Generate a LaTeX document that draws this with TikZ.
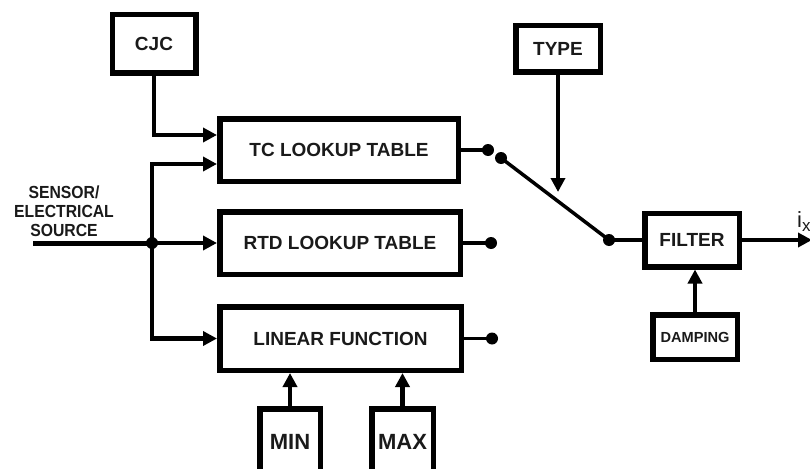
\documentclass[tikz,border=0pt]{standalone}
\usepackage{fontspec}
\setmainfont{Liberation Sans}
\newfontfamily\narrowsans[FakeStretch=0.9]{Liberation Sans}
\usetikzlibrary{arrows.meta,calc}
\definecolor{ink}{HTML}{1A1A1A}
\begin{document}
\begin{tikzpicture}[x=1pt,y=-1pt,
  blk/.style={draw=black, line width=5.5pt, fill=white, text=ink,
    font=\bfseries\fontsize{19}{22}\selectfont, inner sep=0pt},
  arr/.style={line width=4.5pt, -{Triangle[length=14pt,width=14pt]}},
  wire/.style={line width=3.5pt},
  pin/.style={circle, fill=black, inner sep=0pt, minimum size=12pt}]
\useasboundingbox (0,0) rectangle (810,468);

% blocks
\node[blk, minimum width=83.5pt, minimum height=58.5pt] (cjc) at (154,44) {CJC};
\node[blk, minimum width=84.5pt, minimum height=46.5pt] (type) at (558,49) {TYPE};
\node[blk, minimum width=238.5pt, minimum height=62.5pt] (tc) at (339,150) {TC LOOKUP TABLE};
\node[blk, minimum width=240.5pt, minimum height=62.5pt] (rtd) at (340,243) {RTD LOOKUP TABLE};
\node[blk, minimum width=241.5pt, minimum height=63.5pt] (lin) at (340.5,338.5) {LINEAR FUNCTION};
\node[blk, minimum width=60.5pt, minimum height=66.5pt,
  font=\bfseries\fontsize{22}{24}\selectfont] (mn) at (290,442) {MIN};
\node[blk, minimum width=61.5pt, minimum height=66.5pt,
  font=\bfseries\fontsize{22}{24}\selectfont] (mx) at (402.5,442) {MAX};
\node[blk, minimum width=94.5pt, minimum height=53.5pt] (filt) at (692,240) {FILTER};
\node[blk, minimum width=84.5pt, minimum height=44.5pt,
  font=\bfseries\fontsize{14.6}{17}\selectfont] (damp) at (695,337) {DAMPING};

% input label
\node[align=center, text=ink, inner sep=0pt,
  font=\narrowsans\bfseries\fontsize{17.5}{19}\selectfont] (src) at (64,211) {SENSOR/\\ELECTRICAL\\SOURCE};

% input line and its branches
\coordinate (in) at (33,243);
\coordinate (j) at (152,243);
\draw[line width=5pt] (in) -- (j);
\draw[arr] (cjc.south) |- ($(tc.west)+(0,-15)$);
\draw[arr] (j) |- ($(tc.west)+(0,14)$);
\draw[arr] (j) -- (rtd.west);
\draw[arr] (j) |- (lin.west);
\node[pin] (jd) at (j) {};

% limits into the linear function
\draw[arr] (mn.north) -- (mn.north |- lin.south);
\draw[arr] (mx.north) -- (mx.north |- lin.south);

% output contacts
\node[pin] (d1) at (488,150) {};
\node[pin] (d2) at (491,243) {};
\node[pin] (d3) at (492,338.5) {};
\draw[wire] (tc.east) -- (d1.center);
\draw[wire] (rtd.east) -- (d2.center);
\draw[wire] (lin.east) -- (d3.center);

% selector switch
\node[pin] (sw1) at (501,158) {};
\node[pin] (sw2) at (609,240) {};
\draw[wire] (sw1.center) -- (sw2.center);
\draw[wire] (sw2.center) -- (filt.west);
\draw[arr] (type.south) -- ++(0,117);

% filter and output
\draw[arr] (damp.north) -- (damp.north |- filt.south);
\draw[arr] (filt.east) -- ++(70,0);
\node[anchor=west, text=ink, inner sep=0pt,
  font=\fontsize{22}{24}\selectfont] (ix) at (797,222) {i{\fontsize{17}{18}\selectfont\raisebox{-4pt}{x}}};
\end{tikzpicture}
\end{document}
